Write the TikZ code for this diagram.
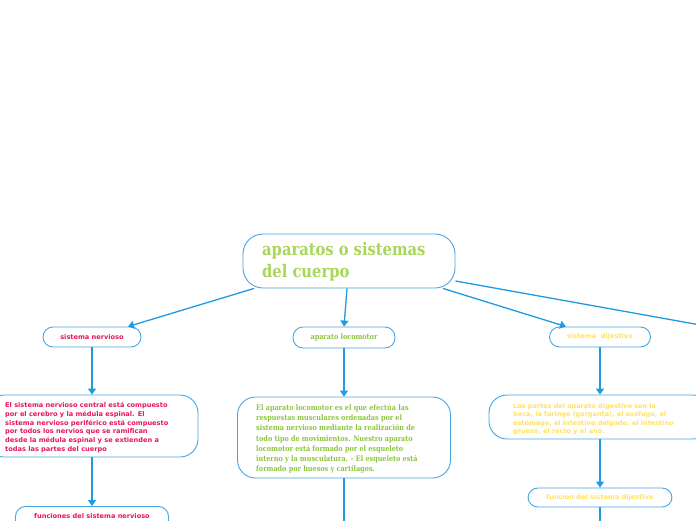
\documentclass[tikz,border=0pt]{standalone}
\usepackage{fontspec}
\setmainfont{DejaVu Sans}
\newfontfamily\slab{DejaVu Serif}[FakeStretch=0.85]
\usetikzlibrary{arrows.meta}
\definecolor{lineblue}{RGB}{30,155,225}
\definecolor{boxblue}{RGB}{70,165,225}
\definecolor{rootgreen}{RGB}{168,214,90}
\definecolor{locgreen}{RGB}{140,198,63}
\definecolor{nervpink}{RGB}{230,20,95}
\definecolor{digyellow}{RGB}{255,226,100}
\begin{document}
\begin{tikzpicture}[x=1pt,y=-1pt,
  box/.style={draw=boxblue,line width=0.9pt,fill=white,inner sep=0pt},
  pill/.style={box,rounded corners=10pt},
  bigbox/.style={box,rounded corners=18pt},
  conn/.style={draw=lineblue,line width=1.3pt,-{Triangle[length=6pt,width=8pt]}},
  plain/.style={draw=lineblue,line width=1.3pt},
  bodytext/.style={anchor=north west,inner sep=0pt,align=left},
  sansB/.style={font=\bfseries\fontsize{6.6}{8.8}\selectfont},
  slabB/.style={font=\slab\bfseries\fontsize{7.6}{10.1}\selectfont}]
\useasboundingbox (0,0) rectangle (696,520);

% root
\node[box,rounded corners=20pt,minimum width=212pt,minimum height=54pt] (root) at (349,261) {};
\node[bodytext,text=rootgreen,font=\slab\bfseries\fontsize{17.3}{22}\selectfont] (rootT) at (262,242) {aparatos o sistemas\\del cuerpo};

% level 1
\node[pill,minimum width=98pt,minimum height=20pt,sansB,text=nervpink] (sn) at (92,337) {sistema nervioso};
\node[pill,minimum width=102pt,minimum height=21pt,font=\slab\bfseries\fontsize{7.6}{8}\selectfont,text=locgreen] (al) at (344,337.5) {aparato locomotor};
\node[pill,minimum width=101pt,minimum height=20pt,sansB,text=digyellow] (sd) at (600,337) {sistema\ \ dijestivo};
\coordinate (far) at (706,326);

% bodies
\node[bigbox,minimum width=212pt,minimum height=62pt] (snB) at (92,426) {};
\node[bodytext,sansB,text=nervpink] (snT) at (5,402) {El sistema nervioso central está compuesto\\por el cerebro y la médula espinal. El\\sistema nervioso periférico está compuesto\\por todos los nervios que se ramifican\\desde la médula espinal y se extienden a\\todas las partes del cuerpo};

\node[bigbox,minimum width=213pt,minimum height=81pt] (alB) at (344,437.5) {};
\node[bodytext,slabB,text=locgreen] (alT) at (256,404.5) {El aparato locomotor es el que efectúa las\\respuestas musculares ordenadas por el\\sistema nervioso mediante la realización de\\todo tipo de movimientos. Nuestro aparato\\locomotor está formado por el esqueleto\\interno y la musculatura. - El esqueleto está\\formado por huesos y cartílagos.};

\node[bigbox,minimum width=222pt,minimum height=44pt] (sdB) at (600,417) {};
\node[bodytext,font=\bfseries\fontsize{6.5}{8.45}\selectfont,text=digyellow] (sdT) at (513,403) {Las partes del aparato digestivo son la\\boca, la faringe (garganta), el esófago, el\\estómago, el intestino delgado, el intestino\\grueso, el recto y el ano.};

% level 3
\node[pill,minimum width=153pt,minimum height=24pt,anchor=north] (fsn) at (92,506) {};
\node[sansB,text=nervpink,inner sep=0pt] (fsnT) at (92,516) {funciones del sistema nervioso};
\node[pill,minimum width=144pt,minimum height=19pt,sansB,text=digyellow] (fsd) at (600,497.5) {funcion del sistema dijestivo};
\coordinate (alEnd) at (344,530);
\coordinate (fsdEnd) at (600,530);

% connectors
\draw[conn] ([xshift=-95pt]root.south) -- ([xshift=36pt]sn.north);
\draw[conn] ([xshift=-2pt]root.south) -- (al.north);
\draw[conn] ([xshift=94pt]root.south) -- ([xshift=-34pt]sd.north);
\draw[conn] ([yshift=-20pt]root.east) -- (far);
\draw[conn] (sn) -- (snB);
\draw[conn] (al) -- (alB);
\draw[conn] (sd) -- (sdB);
\draw[conn] (snB) -- (fsn);
\draw[conn] (sdB) -- (fsd);
\draw[plain] (alB) -- (alEnd);
\draw[plain] (fsd) -- (fsdEnd);
\end{tikzpicture}
\end{document}
